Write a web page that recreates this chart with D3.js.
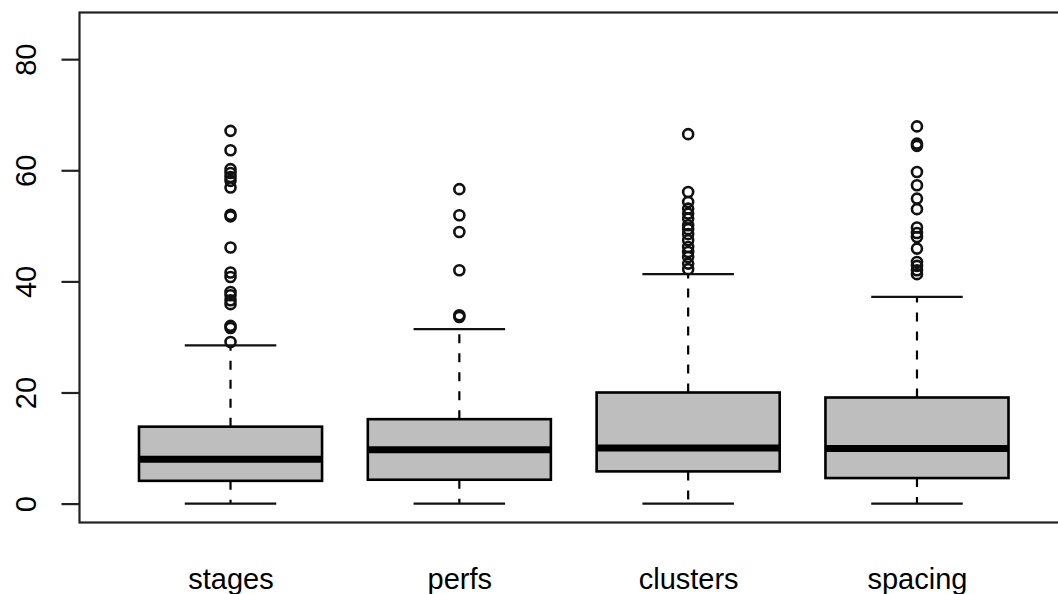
<!DOCTYPE html>
<html>
<head>
<meta charset="utf-8">
<script src="https://cdn.jsdelivr.net/npm/d3@7"></script>
<style>
  html, body { margin: 0; padding: 0; background: #fff; }
  svg { display: block; }
  text { font-family: "Liberation Sans", Arial, sans-serif; fill: #000; }
</style>
</head>
<body>
<div id="container"></div>
<script>
const categories = ["stages", "perfs", "clusters", "spacing"];
const whiskerLow = [0, 0, 0, 0];
const q1 = [4.1, 4.3, 5.8, 4.6];
const medians = [8.0, 9.7, 10.0, 9.9];
const q3 = [13.85, 15.2, 20.0, 19.1];
const whiskerHigh = [28.5, 31.4, 41.3, 37.2];
const outliers = [
  [67.1, 63.6, 60.2, 59.5, 58.8, 58.1, 56.9, 52.0, 51.7, 46.1, 41.6, 40.8, 38.1, 37.5, 36.6, 35.9, 32.0, 31.6, 29.1],
  [56.6, 51.9, 48.9, 42.0, 33.9, 33.6],
  [66.5, 56.1, 54.3, 53.1, 52.2, 51.3, 50.1, 49.4, 48.5, 47.4, 46.2, 45.3, 44.4, 43.2, 42.2],
  [67.9, 64.8, 64.4, 59.7, 57.3, 54.9, 53.0, 49.7, 48.7, 48.0, 45.9, 43.5, 42.8, 42.0, 41.3]
];
const yTicks = [0, 20, 40, 60, 80];

const width = 1058, height = 594;
const plotLeft = 79.5, plotTop = 12.5, plotRight = 1068, plotBottom = 522.5;

const svg = d3.select("#container").append("svg")
  .attr("width", width).attr("height", height);

const x = d3.scalePoint()
  .domain(categories)
  .range([plotLeft, plotRight])
  .padding(0.66);

const y = d3.scaleLinear()
  .domain([-3.4, 88.4])
  .range([plotBottom, plotTop]);

const boxW = x.step() * 0.8;
const capW = boxW / 2;

const rows = categories.map((c, i) => ({
  name: c, lo: whiskerLow[i], q1: q1[i], med: medians[i], q3: q3[i], hi: whiskerHigh[i], out: outliers[i]
}));

const g = svg.selectAll("g.box").data(rows).enter().append("g").attr("class", "box");

// whiskers (dashed)
g.append("line")
  .attr("x1", d => x(d.name)).attr("x2", d => x(d.name))
  .attr("y1", d => y(d.q3)).attr("y2", d => y(d.hi))
  .attr("stroke", "#000").attr("stroke-width", 2.2).attr("stroke-dasharray", "9,10");
g.append("line")
  .attr("x1", d => x(d.name)).attr("x2", d => x(d.name))
  .attr("y1", d => y(d.q1)).attr("y2", d => y(d.lo))
  .attr("stroke", "#000").attr("stroke-width", 2.2).attr("stroke-dasharray", "9,10");

// staples
g.selectAll("line.cap").data(d => [d.lo, d.hi].map(v => ({ name: d.name, v }))).enter()
  .append("line").attr("class", "cap")
  .attr("x1", d => x(d.name) - capW / 2).attr("x2", d => x(d.name) + capW / 2)
  .attr("y1", d => y(d.v)).attr("y2", d => y(d.v))
  .attr("stroke", "#111").attr("stroke-width", 2.2);

// boxes
g.append("rect")
  .attr("x", d => x(d.name) - boxW / 2)
  .attr("y", d => y(d.q3))
  .attr("width", boxW)
  .attr("height", d => y(d.q1) - y(d.q3))
  .attr("fill", "#bebebe").attr("stroke", "#000").attr("stroke-width", 2.6);

// medians
g.append("line")
  .attr("x1", d => x(d.name) - boxW / 2).attr("x2", d => x(d.name) + boxW / 2)
  .attr("y1", d => y(d.med)).attr("y2", d => y(d.med))
  .attr("stroke", "#000").attr("stroke-width", 7);

// outliers
g.selectAll("circle").data(d => d.out.map(v => ({ name: d.name, v }))).enter()
  .append("circle")
  .attr("cx", d => x(d.name)).attr("cy", d => y(d.v))
  .attr("r", 5).attr("fill", "none").attr("stroke", "#111").attr("stroke-width", 2.6);

// frame
svg.append("rect")
  .attr("x", plotLeft).attr("y", plotTop)
  .attr("width", plotRight - plotLeft).attr("height", plotBottom - plotTop)
  .attr("fill", "none").attr("stroke", "#222").attr("stroke-width", 2.2);

// y axis
const yAxis = svg.append("g")
  .attr("transform", `translate(${plotLeft},0)`)
  .call(d3.axisLeft(y).tickValues(yTicks).tickSize(18).tickSizeOuter(0).tickPadding(0).tickFormat(d3.format("d")));
yAxis.select(".domain").remove();
yAxis.selectAll(".tick line").attr("stroke", "#222").attr("stroke-width", 2.2);
yAxis.selectAll(".tick text")
  .attr("x", null).attr("dy", null)
  .attr("text-anchor", "middle")
  .attr("transform", `translate(${26 - plotLeft},0) rotate(-90)`)
  .attr("dy", "0.36em")
  .style("font-size", "29px").style("font-family", "'Liberation Sans', Arial, sans-serif");

// x labels
const xAxis = svg.append("g")
  .attr("transform", `translate(0,${plotBottom})`)
  .call(d3.axisBottom(x).tickSize(0).tickSizeOuter(0).tickPadding(0));
xAxis.select(".domain").remove();
xAxis.selectAll(".tick text")
  .attr("y", 0).attr("dy", null)
  .attr("transform", "translate(0,66)")
  .style("font-size", "29px").style("font-family", "'Liberation Sans', Arial, sans-serif");
</script>
</body>
</html>
